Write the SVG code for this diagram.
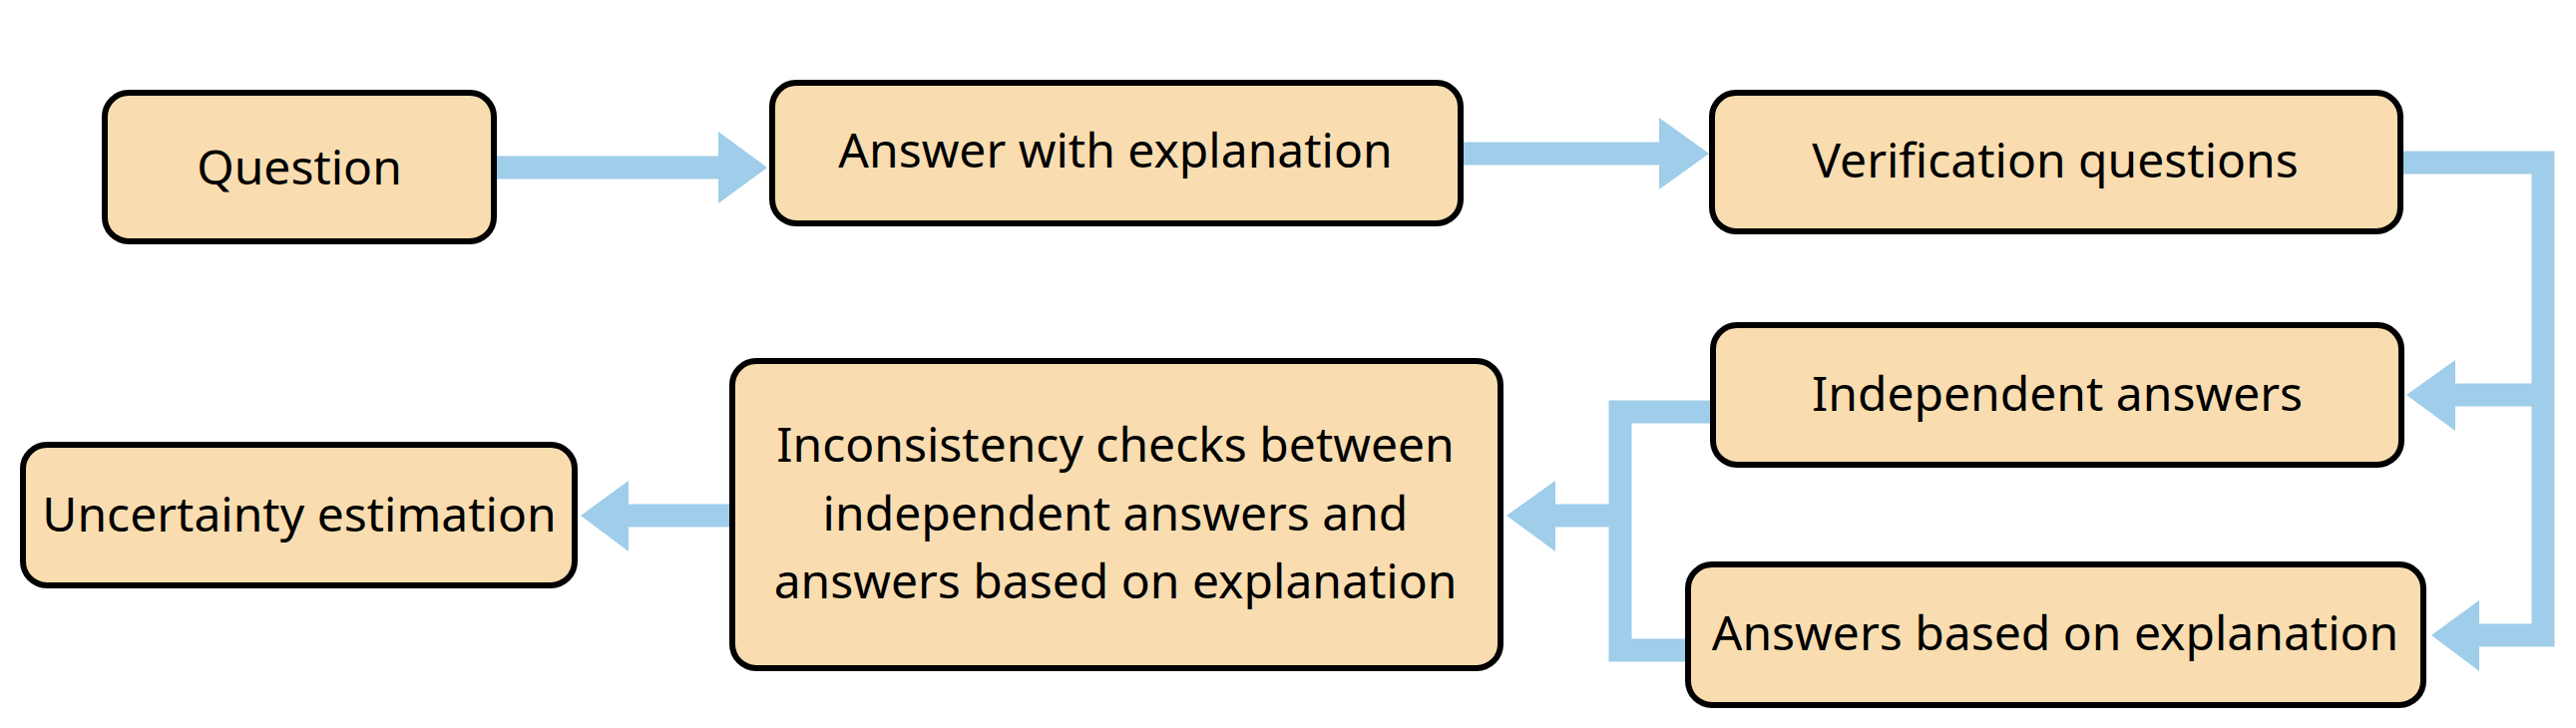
<svg xmlns="http://www.w3.org/2000/svg" width="2582" height="730" viewBox="0 0 2582 730">
<style>
.box{fill:#f9ddb0;stroke:#000;stroke-width:6}
.lbl{font-family:"Noto Sans","Open Sans",sans-serif;font-size:48px;fill:#000;text-anchor:middle}
.shaft{fill:none;stroke:#9fcdea;stroke-width:23;stroke-linejoin:miter;stroke-linecap:butt}
.head{fill:#9fcdea}
</style>
<rect width="2582" height="730" fill="#fff"/>
<g id="connectors">
<line class="shaft" x1="498" y1="168" x2="721" y2="168"/>
<polygon class="head" points="720,132 769,168 720,204"/>
<line class="shaft" x1="1467" y1="154" x2="1664" y2="154"/>
<polygon class="head" points="1663,118 1713,154 1663,190"/>
<polyline class="shaft" points="2409,163 2549,163 2549,637 2484,637"/>
<line class="shaft" x1="2549" y1="396" x2="2460" y2="396"/>
<polygon class="head" points="2461,361 2412,396 2461,432"/>
<polygon class="head" points="2485,602 2437,637 2485,673"/>
<polyline class="shaft" points="1714,413 1624,413 1624,652 1689,652"/>
<line class="shaft" x1="1624" y1="517" x2="1558" y2="517"/>
<polygon class="head" points="1559,482 1510,517 1559,553"/>
<line class="shaft" x1="731" y1="517" x2="629" y2="517"/>
<polygon class="head" points="630,482 582,517 630,553"/>
</g>
<g id="node-question">
<rect class="box" x="105" y="93" width="390" height="149" rx="24"/>
<text class="lbl" x="300" y="185">Question</text>
</g>
<g id="node-answer">
<rect class="box" x="774" y="83" width="690" height="141" rx="24"/>
<text class="lbl" x="1118" y="168">Answer with explanation</text>
</g>
<g id="node-verification">
<rect class="box" x="1716" y="93" width="690" height="139" rx="24"/>
<text class="lbl" x="2060" y="178">Verification questions</text>
</g>
<g id="node-independent">
<rect class="box" x="1717" y="326" width="690" height="140" rx="24"/>
<text class="lbl" x="2062" y="412">Independent answers</text>
</g>
<g id="node-based">
<rect class="box" x="1692" y="566" width="737" height="141" rx="24"/>
<text class="lbl" x="2060" y="652">Answers based on explanation</text>
</g>
<g id="node-inconsistency">
<rect class="box" x="734" y="362" width="770" height="308" rx="24"/>
<text class="lbl" x="1118" y="463">Inconsistency checks between</text>
<text class="lbl" x="1118" y="532">independent answers and</text>
<text class="lbl" x="1118" y="600">answers based on explanation</text>
</g>
<g id="node-uncertainty">
<rect class="box" x="23" y="446" width="553" height="141" rx="24"/>
<text class="lbl" x="300" y="533">Uncertainty estimation</text>
</g>
</svg>
